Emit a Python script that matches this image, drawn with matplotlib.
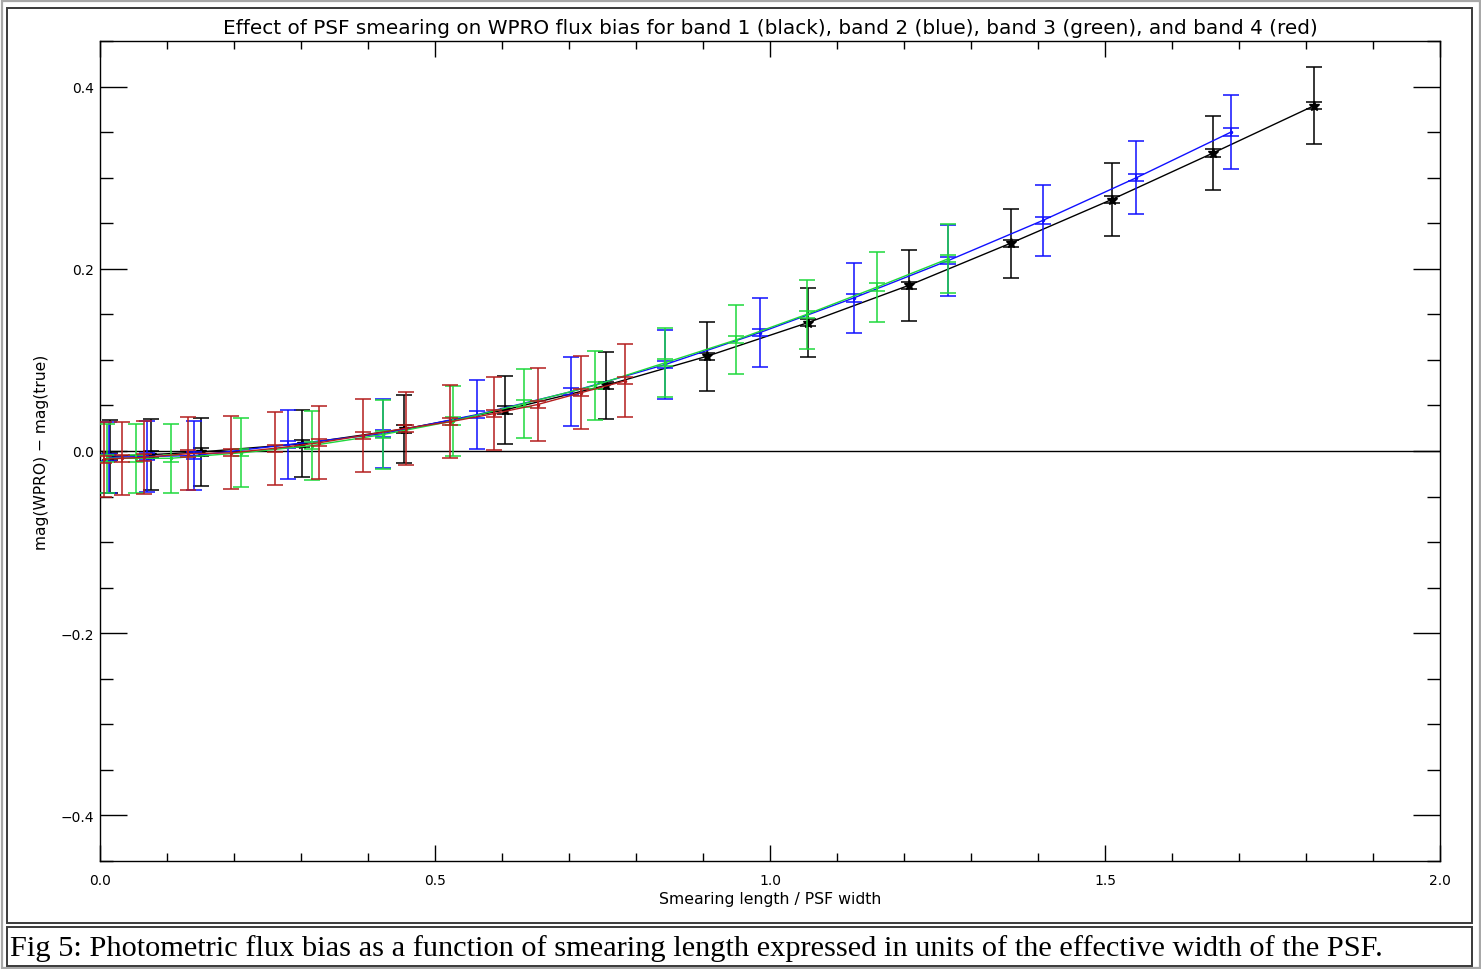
import matplotlib
matplotlib.use("Agg")
import matplotlib.pyplot as plt
from matplotlib.patches import Rectangle
from matplotlib.ticker import MultipleLocator

W, H = 1481, 970

# smearing length / PSF width for each band
x_band1 = [0.015, 0.0755, 0.151, 0.302, 0.453, 0.604, 0.755, 0.906, 1.057, 1.208, 1.359, 1.510, 1.661, 1.812]
x_band2 = [0.014, 0.070, 0.141, 0.281, 0.422, 0.563, 0.703, 0.844, 0.985, 1.125, 1.266, 1.407, 1.547, 1.688]
x_band3 = [0.011, 0.053, 0.1055, 0.211, 0.3165, 0.422, 0.5275, 0.633, 0.7385, 0.844, 0.9495, 1.055, 1.160, 1.266]
x_band4 = [0.0065, 0.033, 0.065, 0.131, 0.196, 0.261, 0.327, 0.392, 0.457, 0.522, 0.588, 0.653, 0.718, 0.784]

# mean flux bias mag(WPRO) - mag(true)
y_band1 = [-0.006, -0.004, -0.001, 0.008, 0.024, 0.045, 0.072, 0.104, 0.141, 0.182, 0.228, 0.276, 0.327, 0.379]
y_band2 = [-0.007, -0.006, -0.005, 0.007, 0.019, 0.040, 0.065, 0.095, 0.130, 0.168, 0.209, 0.253, 0.300, 0.350]
y_band3 = [-0.008, -0.008, -0.008, -0.002, 0.006, 0.018, 0.033, 0.052, 0.072, 0.097, 0.122, 0.150, 0.180, 0.211]
y_band4 = [-0.009, -0.008, -0.007, -0.003, -0.002, 0.003, 0.009, 0.017, 0.025, 0.032, 0.041, 0.051, 0.064, 0.077]

# scatter (rms) of the bias
rms_band1 = [0.040, 0.039, 0.037, 0.037, 0.037, 0.037, 0.037, 0.038, 0.038, 0.039, 0.038, 0.040, 0.041, 0.042]
rms_band2 = [0.039, 0.039, 0.038, 0.038, 0.038, 0.038, 0.038, 0.038, 0.038, 0.038, 0.039, 0.039, 0.040, 0.041]
rms_band3 = [0.038, 0.038, 0.038, 0.038, 0.038, 0.038, 0.038, 0.038, 0.038, 0.038, 0.038, 0.038, 0.038, 0.038]
rms_band4 = [0.041, 0.040, 0.040, 0.040, 0.040, 0.040, 0.040, 0.040, 0.040, 0.040, 0.040, 0.040, 0.040, 0.040]

# uncertainty of the mean
sem_band1 = [0.004] * 14
sem_band2 = [0.004] * 14
sem_band3 = [0.004] * 14
sem_band4 = [0.004] * 14

bands = [
    (x_band1, y_band1, rms_band1, sem_band1, "#000000"),
    (x_band2, y_band2, rms_band2, sem_band2, "#1010ff"),
    (x_band3, y_band3, rms_band3, sem_band3, "#1ed83c"),
    (x_band4, y_band4, rms_band4, sem_band4, "#b41e1e"),
]

fig = plt.figure(figsize=(W / 100, H / 100), dpi=100)
fig.patch.set_facecolor("white")


def px_rect(x0, y0, x1, y1, **kw):
    r = Rectangle((x0 / W, 1 - y1 / H), (x1 - x0) / W, (y1 - y0) / H,
                  transform=fig.transFigure, fill=False, **kw)
    fig.add_artist(r)


# page frame, plot cell and caption cell
px_rect(1.5, 1.5, 1479.5, 968.5, edgecolor="#a8a8a8", lw=1.6)
px_rect(7, 9, 1472, 924, edgecolor="#3a3a3a", lw=1.4)
px_rect(7, 928, 1472, 967, edgecolor="#3a3a3a", lw=1.4)

ax = fig.add_axes([100 / W, 1 - 862 / H, 1340 / W, 820 / H])
ax.set_xlim(0, 2.0)
ax.set_ylim(-0.45, 0.45)

ax.axhline(0, color="black", lw=1.0, zorder=1)

for i, (xs, ys, rms, sem, c) in enumerate(bands):
    ax.plot(xs, ys, color=c, lw=1.0, zorder=2 + i)
    ax.errorbar(xs, ys, yerr=rms, fmt="none", ecolor=c, elinewidth=1.1,
                capsize=5.8, capthick=1.1, zorder=2 + i)
    ax.errorbar(xs, ys, yerr=sem, fmt="none", ecolor=c, elinewidth=1.1,
                capsize=5.8, capthick=1.1, zorder=2 + i)
    if i == 0:
        ax.plot(xs, ys, linestyle="none", marker="*", markersize=7,
                color=c, zorder=2 + i)
    else:
        ax.plot(xs, ys, linestyle="none", marker="o", markersize=1.5,
                color=c, zorder=2 + i)

for s in ax.spines.values():
    s.set_linewidth(1.0)

ax.xaxis.set_major_locator(MultipleLocator(0.5))
ax.xaxis.set_minor_locator(MultipleLocator(0.1))
ax.yaxis.set_major_locator(MultipleLocator(0.2))
ax.yaxis.set_minor_locator(MultipleLocator(0.05))
ax.xaxis.set_major_formatter(plt.FuncFormatter(lambda v, p: f"{v:.1f}".replace("-", "\u2212")))
ax.yaxis.set_major_formatter(plt.FuncFormatter(lambda v, p: f"{v:.1f}".replace("-", "\u2212")))

ax.tick_params(axis="x", which="major", direction="in", length=11.5, width=1.0,
               top=True, bottom=True, labelsize=10, pad=9)
ax.tick_params(axis="x", which="minor", direction="in", length=5.8, width=1.0,
               top=True, bottom=True)
ax.tick_params(axis="y", which="major", direction="in", length=19.5, width=1.0,
               left=True, right=True, labelsize=10, pad=4)
ax.tick_params(axis="y", which="minor", direction="in", length=9.7, width=1.0,
               left=True, right=True)

fig.text(770 / W, 1 - 28 / H,
         "Effect of PSF smearing on WPRO flux bias for band 1 (black), band 2 (blue), "
         "band 3 (green), and band 4 (red)",
         ha="center", va="center", fontsize=14.4, family="DejaVu Sans")
fig.text(770 / W, 1 - 900 / H, "Smearing length / PSF width",
         ha="center", va="center", fontsize=11.3, family="DejaVu Sans")
fig.text(42 / W, 1 - 452 / H, "mag(WPRO) \u2212 mag(true)",
         ha="center", va="center", rotation=90, fontsize=11.2, family="DejaVu Sans")

fig.text(10 / W, 1 - 949 / H,
         "Fig 5: Photometric flux bias as a function of smearing length expressed "
         "in units of the effective width of the PSF.",
         ha="left", va="center", fontsize=21.85, family="Liberation Serif")

fig.savefig("out.png", dpi=100, facecolor="white")
